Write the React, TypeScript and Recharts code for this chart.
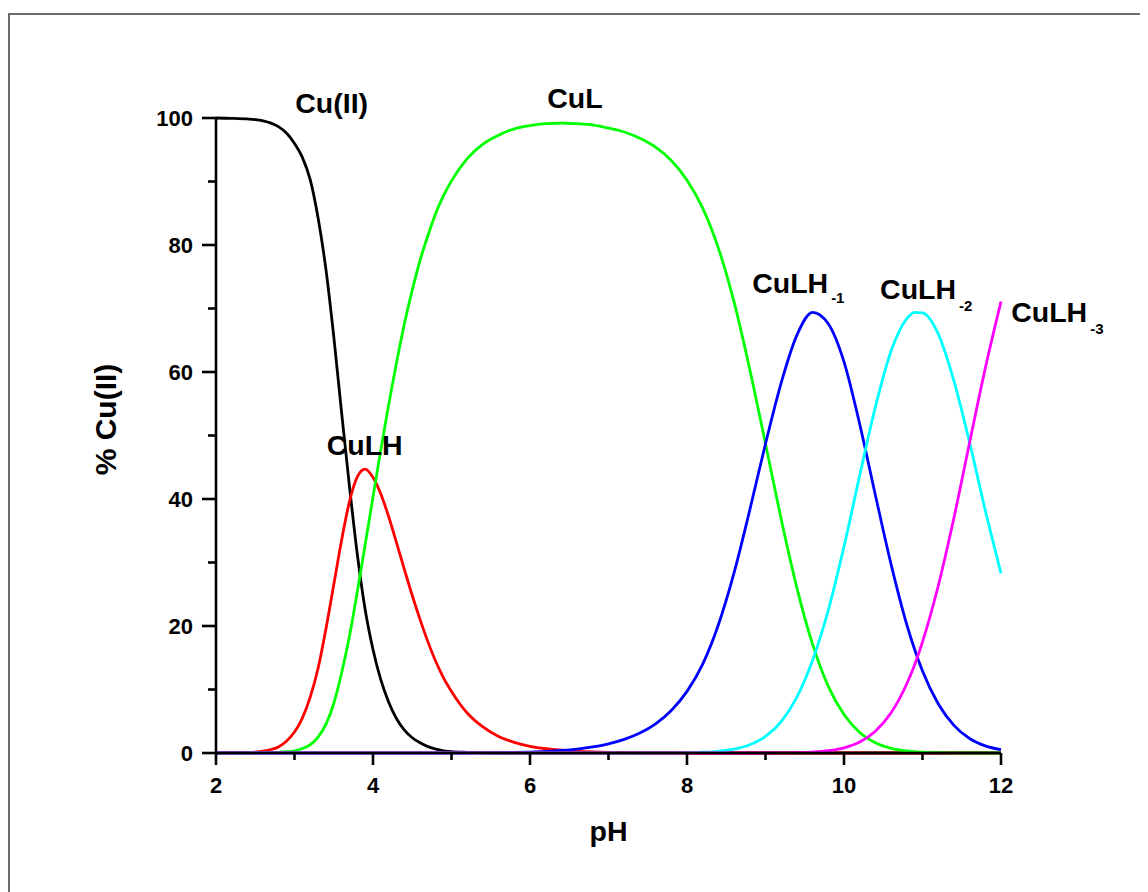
import React from 'react';
import { LineChart, Line, XAxis, YAxis, ReferenceDot } from 'recharts';

const pH = [
  2.0, 2.2,
  2.4, 2.5, 2.6, 2.7, 2.8, 2.9, 3.0, 3.1, 3.2, 3.3, 3.4, 3.5, 3.6, 3.7, 3.8, 3.9, 4.0, 4.1, 4.2, 4.3, 4.4, 4.5, 4.6, 4.7, 4.8, 4.9, 5.0,
  5.2, 5.4, 5.6, 5.8, 6.0, 6.2, 6.4, 6.6, 6.8, 7.0, 7.2, 7.4, 7.6, 7.8, 8.0,
  8.2, 8.4, 8.6, 8.8, 9.0, 9.2, 9.4, 9.6, 9.8, 10.0, 10.2, 10.4, 10.6, 10.8, 10.9, 11.0, 11.2, 11.4, 11.6, 11.8, 12.0,
];

const cuII = [
  100, 99.95,
  99.85, 99.75, 99.55, 99.2, 98.6, 97.6, 96.0, 93.8, 90.3, 84.3, 76.2, 65.6, 53.6, 42.0, 31.3, 22.6, 16.3, 11.5, 8.0, 5.4, 3.6, 2.4, 1.6, 1.0, 0.6, 0.35, 0.2,
  0.1, 0.05, 0, 0, 0, 0, 0, 0, 0, 0, 0, 0, 0, 0, 0,
  0, 0, 0, 0, 0, 0, 0, 0, 0, 0, 0, 0, 0, 0, 0, 0, 0, 0, 0, 0, 0,
];

const cuLH = [
  0.03, 0.05,
  0.1, 0.15, 0.3, 0.55, 1.0, 1.9, 3.3, 5.5, 8.8, 13.3, 19.5, 26.5, 33.5, 39.6, 43.5, 44.7, 43.4, 40.8, 37.2, 33.1, 28.9, 24.8, 21.0, 17.5, 14.4, 11.8, 9.7,
  6.3, 4.1, 2.6, 1.67, 1.06, 0.67, 0.43, 0.27, 0.17, 0.11, 0.07, 0.04, 0.03, 0.02, 0.01,
  0, 0, 0, 0, 0, 0, 0, 0, 0, 0, 0, 0, 0, 0, 0, 0, 0, 0, 0, 0, 0,
];

const cuL = [
  0, 0,
  0, 0.01, 0.02, 0.05, 0.1, 0.2, 0.35, 0.7, 1.3, 2.5, 4.5, 7.8, 12.6, 18.4, 25.4, 32.8, 40.3, 47.8, 54.9, 61.5, 67.6, 72.9, 77.6, 81.5, 85.0, 87.8, 90.1,
  93.6, 95.9, 97.3, 98.3, 98.8, 99.1, 99.2, 99.1, 98.9, 98.4, 97.8, 96.8, 95.4, 93.3, 90.2,
  85.8, 79.5, 71.0, 60.4, 48.7, 36.8, 26.0, 17.1, 10.5, 6.06, 3.24, 1.61, 0.74, 0.32, 0.2, 0.13, 0.05, 0.02, 0, 0, 0,
];

const cuLHm1 = [
  0, 0,
  0, 0, 0, 0, 0, 0, 0, 0, 0, 0, 0, 0, 0, 0, 0, 0, 0, 0, 0, 0, 0, 0, 0, 0, 0, 0, 0,
  0, 0.02, 0.04, 0.08, 0.15, 0.25, 0.4, 0.62, 0.95, 1.45, 2.15, 3.15, 4.6, 6.7, 9.7,
  14.0, 20.2, 28.4, 38.3, 48.7, 58.3, 65.8, 69.4, 67.6, 61.6, 51.8, 40.6, 29.7, 20.2, 16.3, 12.9, 7.75, 4.35, 2.28, 1.13, 0.53,
];

const cuLHm2 = [
  0, 0,
  0, 0, 0, 0, 0, 0, 0, 0, 0, 0, 0, 0, 0, 0, 0, 0, 0, 0, 0, 0, 0, 0, 0, 0, 0, 0, 0,
  0, 0, 0, 0, 0, 0, 0, 0, 0, 0, 0, 0, 0.01, 0.02, 0.05,
  0.12, 0.27, 0.6, 1.3, 2.6, 4.96, 8.8, 14.6, 22.5, 32.5, 43.7, 54.5, 63.3, 68.4, 69.4, 69.3, 66.0, 58.6, 48.9, 38.2, 28.3,
];

const cuLHm3 = [
  0, 0,
  0, 0, 0, 0, 0, 0, 0, 0, 0, 0, 0, 0, 0, 0, 0, 0, 0, 0, 0, 0, 0, 0, 0, 0, 0, 0, 0,
  0, 0, 0, 0, 0, 0, 0, 0, 0, 0, 0, 0, 0, 0, 0,
  0, 0, 0, 0, 0, 0.02, 0.05, 0.15, 0.36, 0.82, 1.74, 3.44, 6.33, 10.9, 13.9, 17.5, 26.3, 37.0, 48.9, 60.6, 71.1,
];

const xTicks = [2, 3, 4, 5, 6, 7, 8, 9, 10, 11, 12];
const yTicks = [0, 10, 20, 30, 40, 50, 60, 70, 80, 90, 100];

const seriesKeys = ['cuII', 'cuLH', 'cuL', 'cuLHm1', 'cuLHm2', 'cuLHm3'];
const seriesColors = ['#000000', '#ff0000', '#00ff00', '#0000ff', '#00ffff', '#ff00ff'];

// species annotation anchors: [pH, %], main text, subscript
const annotations = [
  { x: 3.01, y: 100.8, text: 'Cu(II)', sub: '', dy: 0 },
  { x: 6.22, y: 101.6, text: 'CuL', sub: '', dy: 0 },
  { x: 3.41, y: 46.9, text: 'CuLH', sub: '', dy: 0 },
  { x: 8.83, y: 72.4, text: 'CuLH', sub: '-1', dy: 10 },
  { x: 10.46, y: 71.5, text: 'CuLH', sub: '-2', dy: 12 },
  { x: 12.13, y: 67.9, text: 'CuLH', sub: '-3', dy: 12 },
];

const data = pH.map((p, i) => ({
  pH: p,
  cuII: cuII[i],
  cuLH: cuLH[i],
  cuL: cuL[i],
  cuLHm1: cuLHm1[i],
  cuLHm2: cuLHm2[i],
  cuLHm3: cuLHm3[i],
}));

const FONT = '"Liberation Sans", Arial, Helvetica, sans-serif';

const XTick = (props: any) => {
  const { x, y, payload } = props;
  const major = payload.value % 2 === 0;
  return (
    <g>
      <line x1={x} x2={x} y1={y} y2={y + (major ? 12 : 7)} stroke="#000" strokeWidth={2.6} />
      {major && (
        <text x={x} y={y + 40} textAnchor="middle" fontSize={22} fontWeight="bold" fontFamily={FONT} fill="#000">
          {payload.value}
        </text>
      )}
    </g>
  );
};

const YTick = (props: any) => {
  const { x, y, payload } = props;
  const major = payload.value % 20 === 0;
  return (
    <g>
      <line x1={x - (major ? 14 : 8)} x2={x} y1={y} y2={y} stroke="#000" strokeWidth={2.6} />
      {major && (
        <text x={x - 23} y={y} dy="0.36em" textAnchor="end" fontSize={22} fontWeight="bold" fontFamily={FONT} fill="#000">
          {payload.value}
        </text>
      )}
    </g>
  );
};

const makeAnnotationShape = (a: any) => (props: any) => {
  const { cx, cy } = props;
  return (
    <text x={cx} y={cy} fontSize={28.5} fontWeight="bold" fontFamily={FONT} fill="#000">
      {a.text}
      {a.sub && (
        <tspan fontSize={15} dx={3} dy={a.dy}>
          {a.sub}
        </tspan>
      )}
    </text>
  );
};

const XLabel = (props: any) => {
  const { viewBox } = props;
  const cx = viewBox.x + viewBox.width / 2;
  return (
    <text x={cx} y={viewBox.y + 88} textAnchor="middle" fontSize={28.5} fontWeight="bold" fontFamily={FONT} fill="#000">
      pH
    </text>
  );
};

const YLabel = (props: any) => {
  const { viewBox } = props;
  const tx = viewBox.x + viewBox.width - 100;
  const ty = viewBox.y + viewBox.height / 2 - 16;
  return (
    <text x={tx} y={ty} transform={`rotate(-90, ${tx}, ${ty})`} textAnchor="middle" fontSize={30} fontWeight="bold" fontFamily={FONT} fill="#000">
      % Cu(II)
    </text>
  );
};

export default function App() {
  return (
    <div style={{ position: 'relative', width: 1140, height: 884, overflow: 'hidden', background: '#fff' }}>
      <div
        style={{
          position: 'absolute',
          left: 0,
          top: 5,
          width: 1300,
          height: 1000,
          border: '2px solid #6c6c6c',
          boxSizing: 'border-box',
        }}
      />
      <div style={{ position: 'absolute', left: 0, top: 0 }}>
        <LineChart width={1140} height={884} data={data} margin={{ top: 110, right: 147, bottom: 79, left: 148 }}>
          <XAxis
            dataKey="pH"
            type="number"
            domain={[2, 12]}
            ticks={xTicks}
            interval={0}
            tickSize={0}
            tickMargin={0}
            tick={<XTick />}
            height={60}
            axisLine={{ stroke: '#000', strokeWidth: 2.6 }}
            tickLine={false}
            label={<XLabel />}
          />
          <YAxis
            type="number"
            domain={[0, 100]}
            ticks={yTicks}
            interval={0}
            tickSize={0}
            tickMargin={0}
            tick={<YTick />}
            width={60}
            axisLine={{ stroke: '#000', strokeWidth: 2.6 }}
            tickLine={false}
            label={<YLabel />}
          />
          {seriesKeys.map((k, i) => (
            <Line
              key={k}
              dataKey={k}
              type="monotone"
              stroke={seriesColors[i]}
              strokeWidth={2.8}
              dot={false}
              activeDot={false}
              isAnimationActive={false}
            />
          ))}
          {annotations.map((a, i) => (
            <ReferenceDot
              key={i}
              x={a.x}
              y={a.y}
              r={0}
              ifOverflow="visible"
              shape={makeAnnotationShape(a)}
            />
          ))}
        </LineChart>
      </div>
    </div>
  );
}
